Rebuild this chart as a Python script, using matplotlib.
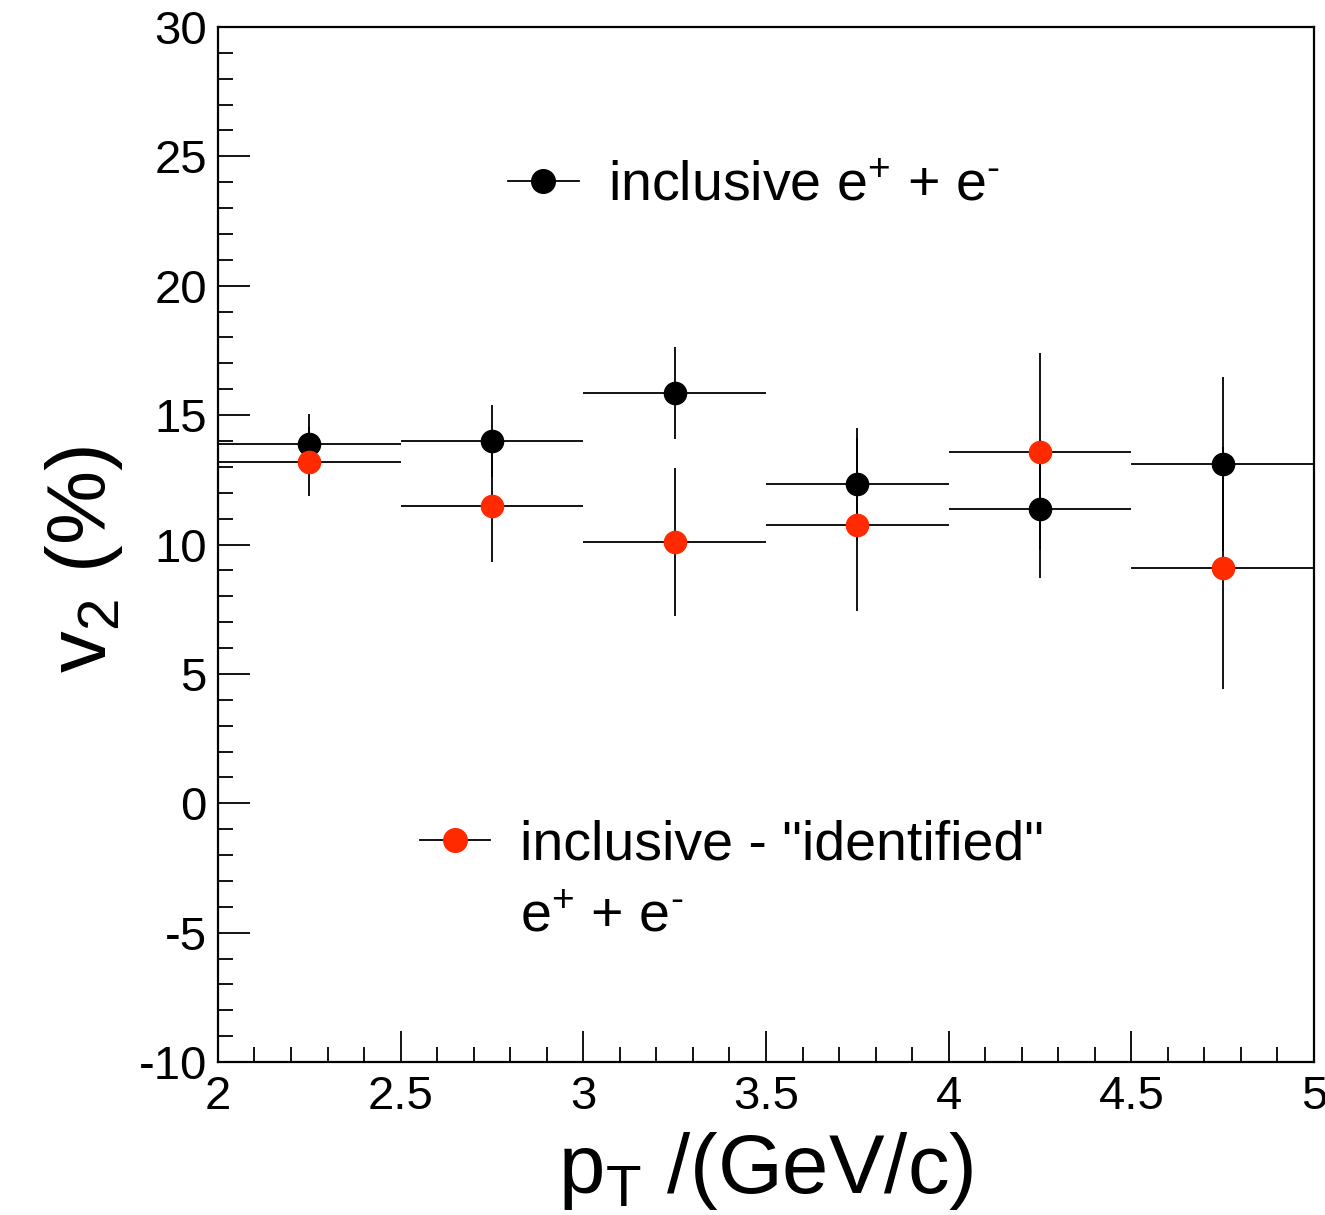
import matplotlib
matplotlib.use('Agg')
import matplotlib.pyplot as plt
from matplotlib.lines import Line2D
from matplotlib.ticker import MultipleLocator
import numpy as np

# pT bin centres and half-widths (GeV/c)
pt = [2.25, 2.75, 3.25, 3.75, 4.25, 4.75]
pt_halfwidth = [0.25, 0.25, 0.25, 0.25, 0.25, 0.25]

# v2 (%) of inclusive e+ + e-
v2_incl = [13.9, 14.0, 15.85, 12.35, 11.37, 13.12]
v2_incl_err = [1.15, 1.38, 1.79, 2.16, 2.68, 3.36]

# v2 (%) of inclusive minus "identified" e+ + e-
v2_diff = [13.2, 11.49, 10.08, 10.77, 13.59, 9.10]
v2_diff_err = [1.33, 2.15, 2.86, 3.33, 3.82, 4.68]

red = '#ff2a00'
plt.rcParams['font.family'] = ['Liberation Sans', 'DejaVu Sans']
plt.rcParams['mathtext.fontset'] = 'custom'
plt.rcParams['mathtext.rm'] = 'Liberation Sans'
plt.rcParams['mathtext.it'] = 'Liberation Sans'
plt.rcParams['mathtext.default'] = 'rm'
plt.rcParams['axes.unicode_minus'] = False

fig = plt.figure(figsize=(13.25, 12.15), dpi=100)
ax = fig.add_axes([0.1645, 0.1259, 0.8272, 0.8519])

ax.errorbar(pt, v2_incl, xerr=pt_halfwidth, yerr=v2_incl_err, fmt='o', color='black',
            ms=16, elinewidth=1.3, capsize=0, zorder=3)
ax.errorbar(pt, v2_diff, xerr=pt_halfwidth, yerr=v2_diff_err, fmt='o', color='black',
            mfc=red, mec=red, ms=16, elinewidth=1.3, capsize=0, zorder=4)

ax.set_xlim(2, 5)
ax.set_ylim(-10, 30)
ax.xaxis.set_major_locator(MultipleLocator(0.5))
ax.xaxis.set_minor_locator(MultipleLocator(0.1))
ax.yaxis.set_major_locator(MultipleLocator(5))
ax.yaxis.set_minor_locator(MultipleLocator(1))
ax.set_xticks([2, 2.5, 3, 3.5, 4, 4.5, 5])
ax.set_xticklabels(['2', '2.5', '3', '3.5', '4', '4.5', '5'])
ax.tick_params(which='both', direction='in', top=False, right=False, width=1.3)
ax.tick_params(which='major', length=22, labelsize=34)
ax.tick_params(which='minor', length=11)
ax.tick_params(axis='y', which='major', length=23, pad=8)
ax.tick_params(axis='x', which='major', pad=9)
for s in ax.spines.values():
    s.set_linewidth(1.6)

ax.set_xlabel(r'p$_{T}$ /(GeV/c)', fontsize=60)
ax.xaxis.set_label_coords(0.5, -0.066)
ax.set_ylabel(r'v$_{2}$ (%)', fontsize=60)
ax.yaxis.set_label_coords(-0.085, 0.485)

h_incl = Line2D([], [], color='black', marker='o', ms=17, lw=1.3)
h_diff = Line2D([], [], color='black', marker='o', mfc=red, mec=red, ms=17, lw=1.3)
h_none = Line2D([], [], color='none')

leg1 = ax.legend([h_incl], [r'inclusive e$^{+}$ + e$^{\text{-}}$'], loc='center left',
                 bbox_to_anchor=(0.2646, 0.846), frameon=False, borderpad=0,
                 borderaxespad=0, handlelength=1.27, handletextpad=0.53,
                 prop={'size': 40})
ax.add_artist(leg1)
ax.legend([h_diff, h_none], ['inclusive - "identified"', r'e$^{+}$ + e$^{\text{-}}$'],
          loc='upper left', bbox_to_anchor=(0.184, 0.234), frameon=False,
          borderpad=0, borderaxespad=0, handlelength=1.27, handletextpad=0.53,
          labelspacing=0.35, prop={'size': 40})

fig.savefig('out.png', dpi=100)
